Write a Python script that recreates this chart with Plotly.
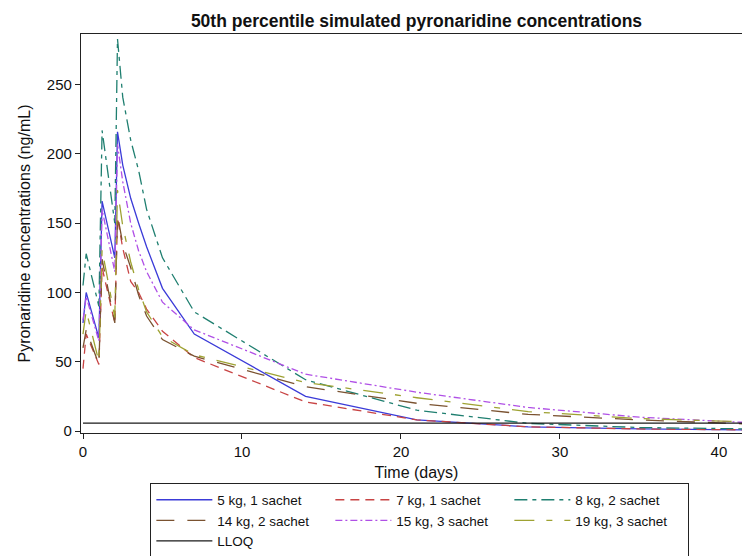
import plotly.graph_objects as go

# Time points (days)
days = [0, 0.2, 1.0, 1.2, 2.0, 2.17, 2.5, 3, 3.5, 4, 5, 7, 14, 21, 28, 35, 42]

# 50th percentile simulated pyronaridine concentrations (ng/mL)
conc_5kg_1 = [78, 100, 67, 166, 125, 216, 192, 168, 150, 133, 103, 70, 25, 8, 3, 1.5, 0.8]
conc_7kg_1 = [45, 70, 48, 118, 78, 154, 132, 108, 100, 88, 72, 53, 21, 8, 3, 1.5, 0.8]
conc_8kg_2 = [105, 128, 90, 217, 150, 283, 241, 210, 188, 160, 125, 86, 37, 15, 5.5, 2.5, 1.5]
conc_14kg_2 = [60, 73, 48, 124, 78, 156, 135, 118, 98, 83, 66, 54, 32, 20, 12, 8, 5]
conc_15kg_3 = [80, 97, 65, 160, 115, 207, 180, 150, 130, 115, 93, 73, 41, 28, 17, 10, 6]
conc_19kg_3 = [70, 87, 50, 131, 82, 174, 148, 122, 102, 86, 68, 55, 35, 24, 14, 9, 6.5]

lloq_days = [0, 42]
lloq_vals = [5.7, 5.7]

series_names = ["5 kg, 1 sachet", "7 kg, 1 sachet", "8 kg, 2 sachet",
                "14 kg, 2 sachet", "15 kg, 3 sachet", "19 kg, 3 sachet"]
series_vals = [conc_5kg_1, conc_7kg_1, conc_8kg_2, conc_14kg_2, conc_15kg_3, conc_19kg_3]
series_colors = ["#3B3BD8", "#C84444", "#1F7F70", "#7A5230", "#B050E6", "#9EA232"]
series_dash = ["solid", "9px,6px", "13px,5px,4px,5px", "18px,13px", "7px,3px,2px,3px", "20px,12px,6px,12px"]

x_ticks = [0, 10, 20, 30, 40]
y_ticks = [0, 50, 100, 150, 200, 250]

fig = go.Figure()
for name, vals, col, dash in zip(series_names, series_vals, series_colors, series_dash):
    fig.add_trace(go.Scatter(x=days, y=vals, mode="lines", name=name,
                             line=dict(color=col, width=1.3, dash=dash)))
fig.add_trace(go.Scatter(x=lloq_days, y=lloq_vals, mode="lines", name="LLOQ",
                         line=dict(color="#1a1a1a", width=1.3)))

font_family = "Liberation Sans, Arial, sans-serif"

fig.update_layout(
    width=750, height=556,
    margin=dict(l=73, r=6, t=26, b=129),
    paper_bgcolor="white", plot_bgcolor="white",
    font=dict(family=font_family, size=15, color="#111"),
    title=dict(text="<b>50th percentile simulated pyronaridine concentrations</b>",
               x=0.5, xref="paper", xanchor="center", y=1 - 12.5 / 556, yref="container",
               yanchor="middle", font=dict(size=17.5, family=font_family, color="#111")),
    xaxis=dict(range=[-0.126, 42.08], tickvals=x_ticks, showgrid=False, zeroline=False,
               showline=True, linecolor="#222", linewidth=1.2, mirror=True,
               ticks="outside", ticklen=5, tickcolor="#222", tickfont=dict(size=15),
               title=dict(text="Time (days)", standoff=7, font=dict(size=16))),
    yaxis=dict(range=[-1.44, 286.6], tickvals=y_ticks, showgrid=False, zeroline=False,
               showline=True, linecolor="#222", linewidth=1.2, mirror=True,
               ticks="outside", ticklen=5, tickcolor="#222", tickfont=dict(size=15),
               title=dict(text="Pyronaridine concentrations (ng/mL)", standoff=12, font=dict(size=16))),
    legend=dict(orientation="h", x=0.505, xanchor="center", y=-0.312, yanchor="bottom",
                bordercolor="#222", borderwidth=1, bgcolor="white",
                entrywidth=108, entrywidthmode="pixels", itemwidth=56,
                font=dict(size=13.5, family=font_family), tracegroupgap=0),
    showlegend=True,
)

fig.write_html("out.html")
